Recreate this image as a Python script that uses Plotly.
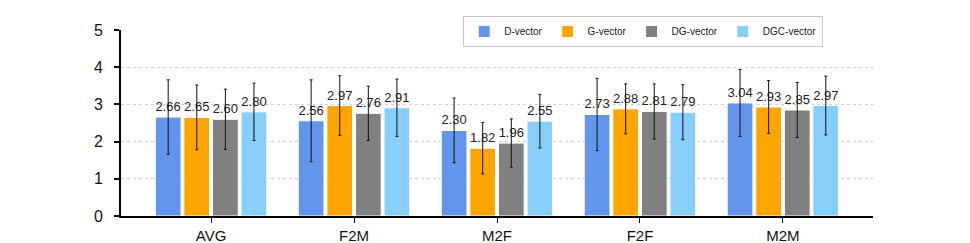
import plotly.graph_objects as go

categories = ["AVG", "F2M", "M2F", "F2F", "M2M"]
series_names = ["D-vector", "G-vector", "DG-vector", "DGC-vector"]
d_vals = [2.66, 2.56, 2.30, 2.73, 3.04]
g_vals = [2.65, 2.97, 1.82, 2.88, 2.93]
dg_vals = [2.60, 2.76, 1.96, 2.81, 2.85]
dgc_vals = [2.80, 2.91, 2.55, 2.79, 2.97]
d_err = [1.00, 1.10, 0.87, 0.97, 0.90]
g_err = [0.87, 0.80, 0.69, 0.67, 0.71]
dg_err = [0.81, 0.73, 0.65, 0.74, 0.74]
dgc_err = [0.77, 0.77, 0.72, 0.74, 0.79]
colors = ["#6495ED", "#FFA500", "#808080", "#87CEFA"]
y_ticks = [0, 1, 2, 3, 4, 5]

values = [d_vals, g_vals, dg_vals, dgc_vals]
errors = [d_err, g_err, dg_err, dgc_err]

fig = go.Figure()
for name, vals, errs, col in zip(series_names, values, errors, colors):
    fig.add_trace(go.Bar(
        name=name, x=categories, y=vals,
        marker=dict(color=col, line=dict(color="white", width=1)),
        error_y=dict(type="data", array=errs, visible=True, color="#111",
                     thickness=1, width=1.5),
        text=[f"{v:.2f}" for v in vals], textposition="outside",
        textfont=dict(size=13, color="#222", family="Liberation Sans, Arial"),
        cliponaxis=False,
    ))

fig.update_layout(
    width=962, height=235,
    margin=dict(l=113, r=97, t=22, b=27, autoexpand=False),
    barmode="group", bargap=0.2, bargroupgap=0.1,
    plot_bgcolor="white", paper_bgcolor="white",
    font=dict(family="Liberation Sans, Arial", color="#111"),
    legend=dict(orientation="h", x=0.455, xanchor="left", y=1.075, yanchor="top",
                bordercolor="#c8c8c8", borderwidth=1, bgcolor="white",
                font=dict(size=10, color="#222"), itemwidth=30,
                tracegroupgap=0),
    xaxis=dict(range=[-0.63, 4.63], showline=True, linecolor="black", linewidth=2,
               ticks="outside", ticklen=5, tickwidth=1, tickcolor="black",
               tickfont=dict(size=15, color="#111"), automargin=False),
    yaxis=dict(range=[0, 5], tickvals=y_ticks, showline=True, linecolor="black",
               linewidth=2, ticks="outside", ticklen=5, tickwidth=2, tickcolor="black",
               tickfont=dict(size=16, color="#111"), ticklabelstandoff=8,
               showgrid=True, gridcolor="#d0d0d0", griddash="dot", gridwidth=1,
               zeroline=False, automargin=False),
)
fig.write_html("out.html")
